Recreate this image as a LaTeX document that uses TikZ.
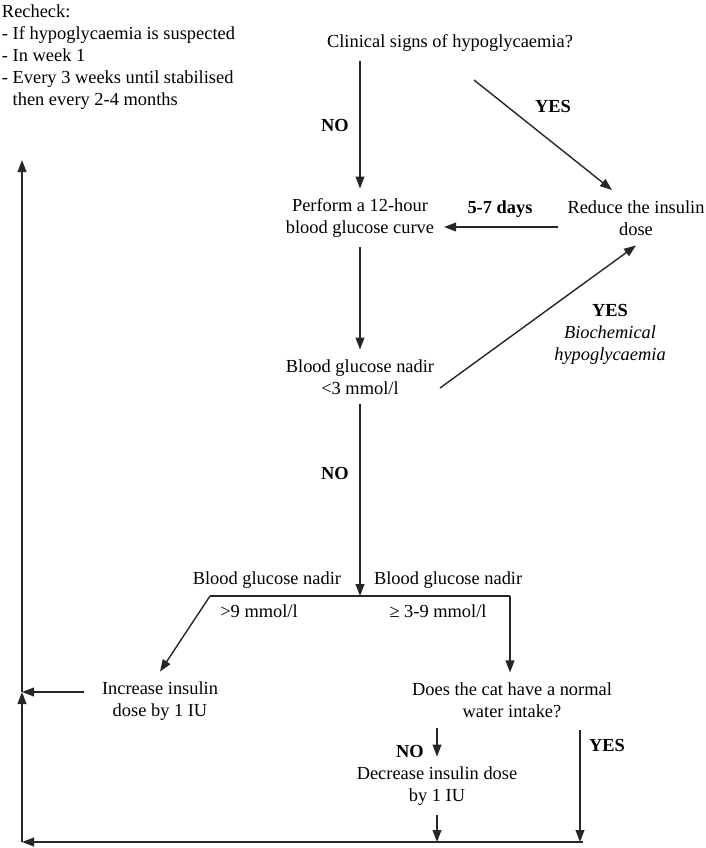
\documentclass[tikz,border=0pt]{standalone}
\usepackage{fontspec}
\setmainfont{Liberation Serif}
\usetikzlibrary{arrows.meta,positioning,calc}
\tikzset{
  >={Triangle[length=6pt,width=4.4pt]},
  font=\fontsize{9.2}{11}\selectfont,
  txt/.style={align=center,inner sep=0pt,outer sep=5pt},
  lbl/.style={font=\fontsize{9.2}{11}\selectfont\bfseries,inner sep=1pt,align=center},
  flow/.style={->,line width=0.7pt,draw=black!85},
  plain/.style={line width=0.7pt,draw=black!85},
}

\begin{document}
\begin{tikzpicture}[x=0.5pt,y=-0.5pt]
  \useasboundingbox (0,0) rectangle (706,848);

  % ===== recheck note, top left =====
  \node[txt,anchor=north west,align=left,outer sep=0pt] (recheck) at (2,5)
    {Recheck:\\- If hypoglycaemia is suspected\\- In week 1\\
     - Every 3 weeks until stabilised\\\phantom{- }then every 2-4 months};

  % ===== main steps =====
  \node[txt] (clinical) at (450,43) {Clinical signs of hypoglycaemia?};
  \node[txt] (perform) at (360,218) {Perform a 12-hour\\blood glucose curve};
  \node[txt] (reduce) at (636,218) {Reduce the insulin\\dose};
  \node[txt] (nadir) at (360,377) {Blood glucose nadir\\<3 mmol/l};
  \node[txt] (increase) at (160,701) {Increase insulin\\dose by 1 IU};
  \node[txt] (water) at (512,700) {Does the cat have a normal\\water intake?};
  \node[txt] (decrease) at (437,786) {Decrease insulin dose\\by 1 IU};

  % branch labels on the split
  \node[txt,anchor=east,outer sep=0pt] (hiname) at (341,580) {Blood glucose nadir};
  \node[txt,anchor=west,outer sep=0pt] (okname) at (374,580) {Blood glucose nadir};
  \node[txt] (hival) at (259,611) {>9 mmol/l};
  \node[txt] (okval) at (438,611) {≥ 3-9 mmol/l};

  % free ends of the connectors
  \coordinate (clinout) at (474,80);
  \coordinate (redin) at (612,190);
  \coordinate (nadirout) at (440,388);
  \coordinate (split) at (360,596);
  \coordinate (splitL) at (210,596);
  \coordinate (splitR) at (510,596);
  \coordinate (incout) at (84,692);
  \coordinate (yestop) at (580,730);
  \coordinate (baseR) at (583,842);
  \coordinate (corner) at (22,842);
  \coordinate (join) at (22,692);
  \coordinate (top) at (22,160);

  % ===== connectors =====
  \draw[flow] (perform |- clinical.south) -- (perform.north);
  \node[lbl] (no1) at (335,125) {NO};
  \draw[flow] (clinout) -- (redin);
  \node[lbl] (yes1) at (553,106) {YES};

  \draw[flow] ([yshift=-4.5pt]reduce.west) -- ([yshift=-4.5pt]perform.east);
  \node[lbl] (days) at (500,209) {5-7 days};

  \draw[flow] (perform.south) -- (nadir.north);
  \draw[flow] (nadirout) -- (reduce.south);
  \node[lbl] (yes2) at (610,334)
    {YES\\{\mdseries\itshape Biochemical}\\{\mdseries\itshape hypoglycaemia}};

  \draw[flow] (nadir.south) -- (split);
  \node[lbl] (no2) at (335,473) {NO};
  \draw[plain] (splitL) -- (splitR);
  \draw[flow] (splitL) -- (increase.north);
  \draw[flow] (splitR) -- (splitR |- water.north);

  \draw[flow] (water.south -| decrease) -- (decrease.north);
  \node[lbl] (no3) at (410,751) {NO};
  \draw[flow] (yestop) -- (yestop |- corner);
  \node[lbl] (yes3) at (607,745) {YES};
  \draw[flow] (decrease.south) -- (decrease |- corner);

  % ===== return path on the left =====
  \draw[flow] (incout) -- (join);
  \draw[flow] (baseR) -- (corner);
  \draw[flow] (corner) -- (join);
  \draw[flow] (join) -- (top);
\end{tikzpicture}
\end{document}
